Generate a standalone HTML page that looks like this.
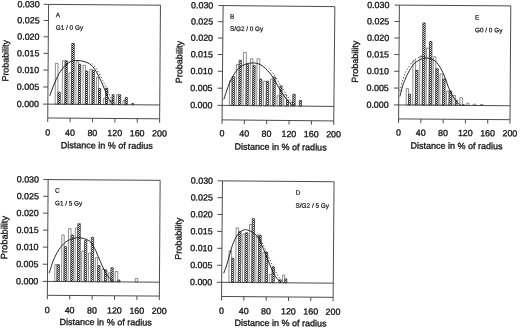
<!DOCTYPE html>
<html><head><meta charset="utf-8"><title>Figure</title><style>html,body{margin:0;padding:0;background:#fff}svg{display:block}text{stroke:#111;stroke-width:.3px}text.s{stroke-width:.2px}</style></head><body>
<svg width="520" height="329" viewBox="0 0 520 329" font-family="'Liberation Sans', Arial, sans-serif" stroke-linejoin="round">
<defs><pattern id="hatchA" width="2" height="2" patternUnits="userSpaceOnUse" patternTransform="rotate(-0.42 104.1 61.6)"><rect width="2" height="2" fill="#fff"/><path d="M0 1h1v1h-1zM1 0h1v1h-1z" fill="#111" shape-rendering="crispEdges"/></pattern><pattern id="hatchB" width="2" height="2" patternUnits="userSpaceOnUse" patternTransform="rotate(-0.55 278.4 63.2)"><rect width="2" height="2" fill="#fff"/><path d="M0 1h1v1h-1zM1 0h1v1h-1z" fill="#333" shape-rendering="crispEdges"/></pattern><pattern id="hatchE" width="2" height="2" patternUnits="userSpaceOnUse" patternTransform="rotate(-0.40 454.7 62.4)"><rect width="2" height="2" fill="#fff"/><path d="M0 1h1v1h-1zM1 0h1v1h-1z" fill="#333" shape-rendering="crispEdges"/></pattern><pattern id="hatchC" width="2" height="2" patternUnits="userSpaceOnUse" patternTransform="rotate(-0.40 103.8 237.8)"><rect width="2" height="2" fill="#fff"/><path d="M0 1h1v1h-1zM1 0h1v1h-1z" fill="#333" shape-rendering="crispEdges"/></pattern><pattern id="hatchD" width="2" height="2" patternUnits="userSpaceOnUse" patternTransform="rotate(-0.45 277.8 239.1)"><rect width="2" height="2" fill="#fff"/><path d="M0 1h1v1h-1zM1 0h1v1h-1z" fill="#333" shape-rendering="crispEdges"/></pattern></defs>
<rect width="520" height="329" fill="#fff"/>
<g transform="rotate(0.42 104.1 61.6)"><rect x="55.45" y="63.69" width="2.61" height="40.86" fill="#fff" stroke="#444" stroke-width="0.6"/>
<rect x="58.21" y="92.61" width="2.31" height="11.94" fill="url(#hatchA)" stroke="#222" stroke-width="0.7"/>
<rect x="62.47" y="61.08" width="2.61" height="43.47" fill="#fff" stroke="#444" stroke-width="0.6"/>
<rect x="65.23" y="61.08" width="2.11" height="43.47" fill="url(#hatchA)" stroke="#222" stroke-width="0.7"/>
<rect x="69.10" y="73.13" width="2.41" height="31.42" fill="#fff" stroke="#444" stroke-width="0.6"/>
<rect x="71.66" y="43.61" width="2.51" height="60.94" fill="url(#hatchA)" stroke="#222" stroke-width="0.7"/>
<rect x="76.13" y="62.09" width="2.41" height="42.46" fill="#fff" stroke="#444" stroke-width="0.6"/>
<rect x="78.69" y="64.50" width="2.11" height="40.05" fill="url(#hatchA)" stroke="#222" stroke-width="0.7"/>
<rect x="83.16" y="65.50" width="2.41" height="39.05" fill="#fff" stroke="#444" stroke-width="0.6"/>
<rect x="85.72" y="71.12" width="2.11" height="33.43" fill="url(#hatchA)" stroke="#222" stroke-width="0.7"/>
<rect x="89.78" y="69.52" width="2.41" height="35.03" fill="#fff" stroke="#444" stroke-width="0.6"/>
<rect x="92.34" y="70.52" width="2.11" height="34.03" fill="url(#hatchA)" stroke="#222" stroke-width="0.7"/>
<rect x="96.61" y="77.15" width="2.01" height="27.40" fill="#fff" stroke="#444" stroke-width="0.6"/>
<rect x="98.77" y="88.59" width="2.11" height="15.96" fill="url(#hatchA)" stroke="#222" stroke-width="0.7"/>
<rect x="103.64" y="98.23" width="2.01" height="6.32" fill="#fff" stroke="#444" stroke-width="0.6"/>
<rect x="105.80" y="88.19" width="2.11" height="16.36" fill="url(#hatchA)" stroke="#222" stroke-width="0.7"/>
<rect x="110.27" y="100.24" width="2.01" height="4.31" fill="#fff" stroke="#444" stroke-width="0.6"/>
<rect x="112.42" y="94.62" width="1.91" height="9.93" fill="url(#hatchA)" stroke="#222" stroke-width="0.7"/>
<rect x="116.69" y="94.62" width="2.01" height="9.93" fill="#fff" stroke="#444" stroke-width="0.6"/>
<rect x="118.85" y="94.62" width="2.11" height="9.93" fill="url(#hatchA)" stroke="#222" stroke-width="0.7"/>
<rect x="123.32" y="100.24" width="2.01" height="4.31" fill="#fff" stroke="#444" stroke-width="0.6"/>
<rect x="125.48" y="97.23" width="2.11" height="7.32" fill="url(#hatchA)" stroke="#222" stroke-width="0.7"/>
<rect x="132.10" y="103.25" width="1.91" height="1.30" fill="url(#hatchA)" stroke="#222" stroke-width="0.7"/>
<path d="M48.15 4.80H160.05V118.40H48.15Z" fill="none" stroke="#3a3a3a" stroke-width="0.9"/>
<path d="M48.15 104.55H160.05" stroke="#3a3a3a" stroke-width="0.9"/>
<path d="M43.35 104.55H48.15" stroke="#3a3a3a" stroke-width="0.9"/>
<text x="39.30" y="107.55" font-size="8.90" text-anchor="end" fill="#111">0.000</text>
<path d="M43.35 87.42H48.15" stroke="#3a3a3a" stroke-width="0.9"/>
<text x="39.30" y="90.42" font-size="8.90" text-anchor="end" fill="#111">0.005</text>
<path d="M43.35 70.50H48.15" stroke="#3a3a3a" stroke-width="0.9"/>
<text x="39.30" y="73.50" font-size="8.90" text-anchor="end" fill="#111">0.010</text>
<path d="M43.35 53.77H48.15" stroke="#3a3a3a" stroke-width="0.9"/>
<text x="39.30" y="56.77" font-size="8.90" text-anchor="end" fill="#111">0.015</text>
<path d="M43.35 37.25H48.15" stroke="#3a3a3a" stroke-width="0.9"/>
<text x="39.30" y="40.25" font-size="8.90" text-anchor="end" fill="#111">0.020</text>
<path d="M43.35 20.92H48.15" stroke="#3a3a3a" stroke-width="0.9"/>
<text x="39.30" y="23.92" font-size="8.90" text-anchor="end" fill="#111">0.025</text>
<path d="M43.35 4.80H48.15" stroke="#3a3a3a" stroke-width="0.9"/>
<text x="39.30" y="7.80" font-size="8.90" text-anchor="end" fill="#111">0.030</text>
<path d="M48.15 118.40V122.40" stroke="#3a3a3a" stroke-width="0.9"/>
<text x="48.15" y="136.00" font-size="8.90" text-anchor="middle" fill="#111">0</text>
<path d="M70.53 118.40V122.40" stroke="#3a3a3a" stroke-width="0.9"/>
<text x="70.53" y="136.00" font-size="8.90" text-anchor="middle" fill="#111">40</text>
<path d="M92.91 118.40V122.40" stroke="#3a3a3a" stroke-width="0.9"/>
<text x="92.91" y="136.00" font-size="8.90" text-anchor="middle" fill="#111">80</text>
<path d="M115.29 118.40V122.40" stroke="#3a3a3a" stroke-width="0.9"/>
<text x="115.29" y="136.00" font-size="8.90" text-anchor="middle" fill="#111">120</text>
<path d="M137.67 118.40V122.40" stroke="#3a3a3a" stroke-width="0.9"/>
<text x="137.67" y="136.00" font-size="8.90" text-anchor="middle" fill="#111">160</text>
<path d="M160.05 118.40V122.40" stroke="#3a3a3a" stroke-width="0.9"/>
<text x="160.05" y="136.00" font-size="8.90" text-anchor="middle" fill="#111">200</text>
<text x="107.30" y="148.50" font-size="9.00" text-anchor="middle" fill="#111">Distance in % of radius</text>
<text transform="translate(8.50 61.50) rotate(-90)" font-size="8.90" text-anchor="middle" fill="#111">Probability</text>
<path d="M50.02 96.22 C50.69 94.38 52.53 88.86 54.04 85.18 C55.55 81.50 57.39 77.15 59.06 74.14 C60.73 71.12 62.24 69.12 64.08 67.11 C65.92 65.10 67.93 63.16 70.10 62.09 C72.28 61.02 74.79 60.75 77.13 60.68 C79.48 60.62 81.82 60.95 84.16 61.69 C86.50 62.42 89.11 63.36 91.19 65.10 C93.26 66.84 94.94 69.45 96.61 72.13 C98.28 74.81 99.79 78.15 101.23 81.16 C102.67 84.18 103.91 87.19 105.24 90.20 C106.58 93.21 107.92 96.86 109.26 99.24 C110.60 101.61 112.61 103.59 113.28 104.46" fill="none" stroke="#111" stroke-width="0.9"/>
<path d="M92.19 63.69 C92.93 64.60 95.10 66.87 96.61 69.12 C98.12 71.36 99.79 74.47 101.23 77.15 C102.67 79.83 103.91 82.40 105.24 85.18 C106.58 87.96 107.92 91.14 109.26 93.82 C110.60 96.49 112.17 99.47 113.28 101.24 C114.38 103.02 115.45 103.92 115.89 104.46" fill="none" stroke="#222" stroke-width="0.95" stroke-dasharray="1.1 2.1"/>
<text class="s" x="55.50" y="17.60" font-size="6.40" fill="#111">A</text>
<text class="s" x="55.50" y="30.00" font-size="6.40" fill="#111">G1 / 0 Gy</text></g>
<g transform="rotate(0.55 278.4 63.2)"><rect x="229.74" y="81.32" width="2.48" height="24.58" fill="#fff" stroke="#444" stroke-width="0.6"/>
<rect x="232.37" y="77.19" width="2.39" height="28.71" fill="url(#hatchB)" stroke="#222" stroke-width="0.7"/>
<rect x="236.56" y="64.79" width="2.48" height="41.11" fill="#fff" stroke="#444" stroke-width="0.6"/>
<rect x="239.19" y="60.66" width="2.19" height="45.24" fill="url(#hatchB)" stroke="#222" stroke-width="0.7"/>
<rect x="243.38" y="52.81" width="2.89" height="53.09" fill="#fff" stroke="#444" stroke-width="0.6"/>
<rect x="246.42" y="64.79" width="2.19" height="41.11" fill="url(#hatchB)" stroke="#222" stroke-width="0.7"/>
<rect x="250.40" y="59.01" width="2.48" height="46.89" fill="#fff" stroke="#444" stroke-width="0.6"/>
<rect x="253.03" y="65.83" width="2.19" height="40.07" fill="url(#hatchB)" stroke="#222" stroke-width="0.7"/>
<rect x="257.02" y="59.01" width="2.69" height="46.89" fill="#fff" stroke="#444" stroke-width="0.6"/>
<rect x="259.85" y="79.26" width="2.19" height="26.64" fill="url(#hatchB)" stroke="#222" stroke-width="0.7"/>
<rect x="263.83" y="81.32" width="2.69" height="24.58" fill="#fff" stroke="#444" stroke-width="0.6"/>
<rect x="266.67" y="81.32" width="2.19" height="24.58" fill="url(#hatchB)" stroke="#222" stroke-width="0.7"/>
<rect x="270.65" y="79.26" width="2.48" height="26.64" fill="#fff" stroke="#444" stroke-width="0.6"/>
<rect x="273.28" y="77.19" width="2.19" height="28.71" fill="url(#hatchB)" stroke="#222" stroke-width="0.7"/>
<rect x="277.47" y="95.79" width="2.48" height="10.11" fill="#fff" stroke="#444" stroke-width="0.6"/>
<rect x="280.10" y="85.87" width="2.19" height="20.03" fill="url(#hatchB)" stroke="#222" stroke-width="0.7"/>
<rect x="284.08" y="94.75" width="2.69" height="11.15" fill="#fff" stroke="#444" stroke-width="0.6"/>
<rect x="286.92" y="99.92" width="1.98" height="5.98" fill="url(#hatchB)" stroke="#222" stroke-width="0.7"/>
<rect x="290.90" y="101.98" width="2.07" height="3.92" fill="#fff" stroke="#444" stroke-width="0.6"/>
<rect x="293.12" y="94.13" width="2.39" height="11.77" fill="url(#hatchB)" stroke="#222" stroke-width="0.7"/>
<rect x="299.73" y="100.33" width="2.19" height="5.57" fill="url(#hatchB)" stroke="#222" stroke-width="0.7"/>
<path d="M222.60 6.10H334.30V120.40H222.60Z" fill="none" stroke="#3a3a3a" stroke-width="0.9"/>
<path d="M222.60 105.90H334.30" stroke="#3a3a3a" stroke-width="0.9"/>
<path d="M217.80 105.90H222.60" stroke="#3a3a3a" stroke-width="0.9"/>
<text x="212.80" y="108.90" font-size="8.90" text-anchor="end" fill="#111">0.000</text>
<path d="M217.80 88.77H222.60" stroke="#3a3a3a" stroke-width="0.9"/>
<text x="212.80" y="91.77" font-size="8.90" text-anchor="end" fill="#111">0.005</text>
<path d="M217.80 71.83H222.60" stroke="#3a3a3a" stroke-width="0.9"/>
<text x="212.80" y="74.83" font-size="8.90" text-anchor="end" fill="#111">0.010</text>
<path d="M217.80 55.10H222.60" stroke="#3a3a3a" stroke-width="0.9"/>
<text x="212.80" y="58.10" font-size="8.90" text-anchor="end" fill="#111">0.015</text>
<path d="M217.80 38.57H222.60" stroke="#3a3a3a" stroke-width="0.9"/>
<text x="212.80" y="41.57" font-size="8.90" text-anchor="end" fill="#111">0.020</text>
<path d="M217.80 22.23H222.60" stroke="#3a3a3a" stroke-width="0.9"/>
<text x="212.80" y="25.23" font-size="8.90" text-anchor="end" fill="#111">0.025</text>
<path d="M217.80 6.10H222.60" stroke="#3a3a3a" stroke-width="0.9"/>
<text x="212.80" y="9.10" font-size="8.90" text-anchor="end" fill="#111">0.030</text>
<path d="M222.60 120.40V124.40" stroke="#3a3a3a" stroke-width="0.9"/>
<text x="222.60" y="136.80" font-size="8.90" text-anchor="middle" fill="#111">0</text>
<path d="M244.94 120.40V124.40" stroke="#3a3a3a" stroke-width="0.9"/>
<text x="244.94" y="136.80" font-size="8.90" text-anchor="middle" fill="#111">40</text>
<path d="M267.28 120.40V124.40" stroke="#3a3a3a" stroke-width="0.9"/>
<text x="267.28" y="136.80" font-size="8.90" text-anchor="middle" fill="#111">80</text>
<path d="M289.62 120.40V124.40" stroke="#3a3a3a" stroke-width="0.9"/>
<text x="289.62" y="136.80" font-size="8.90" text-anchor="middle" fill="#111">120</text>
<path d="M311.96 120.40V124.40" stroke="#3a3a3a" stroke-width="0.9"/>
<text x="311.96" y="136.80" font-size="8.90" text-anchor="middle" fill="#111">160</text>
<path d="M334.30 120.40V124.40" stroke="#3a3a3a" stroke-width="0.9"/>
<text x="334.30" y="136.80" font-size="8.90" text-anchor="middle" fill="#111">200</text>
<text x="281.45" y="150.00" font-size="9.00" text-anchor="middle" fill="#111">Distance in % of radius</text>
<text transform="translate(182.30 63.05) rotate(-90)" font-size="9.00" text-anchor="middle" fill="#111">Probability</text>
<path d="M224.17 99.92 C225.03 97.33 227.61 88.73 229.33 84.42 C231.05 80.12 232.77 76.85 234.50 74.09 C236.22 71.34 237.77 69.51 239.66 67.89 C241.56 66.27 243.62 65.17 245.86 64.38 C248.10 63.59 250.68 63.07 253.09 63.14 C255.50 63.21 257.91 63.55 260.32 64.79 C262.73 66.03 265.32 68.34 267.55 70.58 C269.79 72.82 271.86 75.40 273.75 78.22 C275.65 81.05 277.20 84.66 278.92 87.52 C280.64 90.38 282.36 92.96 284.08 95.37 C285.80 97.78 287.70 100.26 289.25 101.98 C290.80 103.71 292.69 105.08 293.38 105.70" fill="none" stroke="#111" stroke-width="0.9"/>
<path d="M268.59 67.89 C269.45 68.93 272.03 71.68 273.75 74.09 C275.47 76.50 277.20 79.60 278.92 82.36 C280.64 85.11 282.36 87.97 284.08 90.62 C285.80 93.27 287.53 96.03 289.25 98.26 C290.97 100.50 293.21 102.81 294.41 104.05 C295.62 105.29 296.13 105.43 296.48 105.70" fill="none" stroke="#222" stroke-width="0.95" stroke-dasharray="1.1 2.1"/>
<text class="s" x="229.60" y="19.10" font-size="6.40" fill="#111">B</text>
<text class="s" x="229.60" y="31.30" font-size="6.40" fill="#111">S/G2 / 0 Gy</text></g>
<g transform="rotate(0.40 454.7 62.4)"><rect x="406.43" y="88.86" width="2.29" height="16.49" fill="#fff" stroke="#444" stroke-width="0.6"/>
<rect x="408.86" y="94.57" width="2.07" height="10.78" fill="url(#hatchE)" stroke="#222" stroke-width="0.7"/>
<rect x="413.00" y="61.14" width="2.57" height="44.21" fill="#fff" stroke="#444" stroke-width="0.6"/>
<rect x="415.72" y="70.57" width="2.36" height="34.78" fill="url(#hatchE)" stroke="#222" stroke-width="0.7"/>
<rect x="419.86" y="56.29" width="2.57" height="49.06" fill="#fff" stroke="#444" stroke-width="0.6"/>
<rect x="422.58" y="23.14" width="2.36" height="82.21" fill="url(#hatchE)" stroke="#222" stroke-width="0.7"/>
<rect x="426.43" y="48.29" width="2.86" height="57.06" fill="#fff" stroke="#444" stroke-width="0.6"/>
<rect x="429.44" y="41.71" width="2.36" height="63.64" fill="url(#hatchE)" stroke="#222" stroke-width="0.7"/>
<rect x="433.29" y="56.86" width="2.57" height="48.49" fill="#fff" stroke="#444" stroke-width="0.6"/>
<rect x="436.01" y="68.86" width="2.36" height="36.49" fill="url(#hatchE)" stroke="#222" stroke-width="0.7"/>
<rect x="440.14" y="74.00" width="2.57" height="31.35" fill="#fff" stroke="#444" stroke-width="0.6"/>
<rect x="442.86" y="79.14" width="2.36" height="26.21" fill="url(#hatchE)" stroke="#222" stroke-width="0.7"/>
<rect x="446.71" y="91.14" width="2.57" height="14.21" fill="#fff" stroke="#444" stroke-width="0.6"/>
<rect x="449.44" y="91.14" width="2.36" height="14.21" fill="url(#hatchE)" stroke="#222" stroke-width="0.7"/>
<rect x="453.29" y="95.43" width="2.29" height="9.92" fill="#fff" stroke="#444" stroke-width="0.6"/>
<rect x="455.72" y="100.29" width="1.79" height="5.06" fill="url(#hatchE)" stroke="#222" stroke-width="0.7"/>
<rect x="460.14" y="97.71" width="2.57" height="7.64" fill="#fff" stroke="#444" stroke-width="0.6"/>
<rect x="462.86" y="104.57" width="1.79" height="0.78" fill="url(#hatchE)" stroke="#222" stroke-width="0.7"/>
<rect x="467.00" y="103.14" width="2.29" height="2.21" fill="#fff" stroke="#444" stroke-width="0.6"/>
<rect x="473.57" y="104.00" width="2.57" height="1.35" fill="#fff" stroke="#444" stroke-width="0.6"/>
<rect x="480.71" y="104.29" width="2.57" height="1.06" fill="#fff" stroke="#444" stroke-width="0.6"/>
<path d="M399.00 5.50H510.40V119.30H399.00Z" fill="none" stroke="#3a3a3a" stroke-width="0.9"/>
<path d="M399.00 105.35H510.40" stroke="#3a3a3a" stroke-width="0.9"/>
<path d="M394.20 105.35H399.00" stroke="#3a3a3a" stroke-width="0.9"/>
<text x="389.00" y="108.35" font-size="8.90" text-anchor="end" fill="#111">0.000</text>
<path d="M394.20 88.46H399.00" stroke="#3a3a3a" stroke-width="0.9"/>
<text x="389.00" y="91.46" font-size="8.90" text-anchor="end" fill="#111">0.005</text>
<path d="M394.20 71.67H399.00" stroke="#3a3a3a" stroke-width="0.9"/>
<text x="389.00" y="74.67" font-size="8.90" text-anchor="end" fill="#111">0.010</text>
<path d="M394.20 54.97H399.00" stroke="#3a3a3a" stroke-width="0.9"/>
<text x="389.00" y="57.97" font-size="8.90" text-anchor="end" fill="#111">0.015</text>
<path d="M394.20 38.38H399.00" stroke="#3a3a3a" stroke-width="0.9"/>
<text x="389.00" y="41.38" font-size="8.90" text-anchor="end" fill="#111">0.020</text>
<path d="M394.20 21.89H399.00" stroke="#3a3a3a" stroke-width="0.9"/>
<text x="389.00" y="24.89" font-size="8.90" text-anchor="end" fill="#111">0.025</text>
<path d="M394.20 5.50H399.00" stroke="#3a3a3a" stroke-width="0.9"/>
<text x="389.00" y="8.50" font-size="8.90" text-anchor="end" fill="#111">0.030</text>
<path d="M399.00 119.30V123.30" stroke="#3a3a3a" stroke-width="0.9"/>
<text x="399.00" y="136.00" font-size="8.90" text-anchor="middle" fill="#111">0</text>
<path d="M421.28 119.30V123.30" stroke="#3a3a3a" stroke-width="0.9"/>
<text x="421.28" y="136.00" font-size="8.90" text-anchor="middle" fill="#111">40</text>
<path d="M443.56 119.30V123.30" stroke="#3a3a3a" stroke-width="0.9"/>
<text x="443.56" y="136.00" font-size="8.90" text-anchor="middle" fill="#111">80</text>
<path d="M465.84 119.30V123.30" stroke="#3a3a3a" stroke-width="0.9"/>
<text x="465.84" y="136.00" font-size="8.90" text-anchor="middle" fill="#111">120</text>
<path d="M488.12 119.30V123.30" stroke="#3a3a3a" stroke-width="0.9"/>
<text x="488.12" y="136.00" font-size="8.90" text-anchor="middle" fill="#111">160</text>
<path d="M510.40 119.30V123.30" stroke="#3a3a3a" stroke-width="0.9"/>
<text x="510.40" y="136.00" font-size="8.90" text-anchor="middle" fill="#111">200</text>
<text x="457.20" y="148.90" font-size="9.00" text-anchor="middle" fill="#111">Distance in % of radius</text>
<text transform="translate(358.10 62.50) rotate(-90)" font-size="9.00" text-anchor="middle" fill="#111">Probability</text>
<path d="M400.14 96.86 C400.71 94.71 402.05 88.29 403.57 84.00 C405.10 79.71 407.38 74.62 409.29 71.14 C411.19 67.67 412.86 65.14 415.00 63.14 C417.14 61.14 420.00 59.95 422.14 59.14 C424.29 58.33 425.71 57.95 427.86 58.29 C430.00 58.62 432.86 59.48 435.00 61.14 C437.14 62.81 439.05 65.57 440.71 68.29 C442.38 71.00 443.57 74.00 445.00 77.43 C446.43 80.86 447.86 85.62 449.29 88.86 C450.71 92.10 452.14 94.57 453.57 96.86 C455.00 99.14 456.57 101.14 457.86 102.57 C459.14 104.00 460.71 104.95 461.29 105.43" fill="none" stroke="#111" stroke-width="0.9"/>
<path d="M400.14 91.14 C400.62 89.24 401.95 83.05 403.00 79.71 C404.05 76.38 404.90 74.00 406.43 71.14 C407.95 68.29 410.00 64.86 412.14 62.57 C414.29 60.29 417.14 58.38 419.29 57.43 C421.43 56.48 424.05 56.95 425.00 56.86" fill="none" stroke="#222" stroke-width="0.95" stroke-dasharray="1.1 2.1"/>
<text class="s" x="474.80" y="19.50" font-size="6.40" fill="#111">E</text>
<text class="s" x="474.80" y="32.10" font-size="6.40" fill="#111">G0 / 0 Gy</text></g>
<g transform="rotate(0.40 103.8 237.8)"><rect x="55.06" y="265.00" width="2.13" height="16.80" fill="#fff" stroke="#444" stroke-width="0.6"/>
<rect x="57.34" y="265.00" width="2.27" height="16.80" fill="url(#hatchC)" stroke="#222" stroke-width="0.7"/>
<rect x="61.87" y="235.21" width="2.34" height="46.59" fill="#fff" stroke="#444" stroke-width="0.6"/>
<rect x="64.36" y="246.91" width="2.27" height="34.89" fill="url(#hatchC)" stroke="#222" stroke-width="0.7"/>
<rect x="68.47" y="228.83" width="2.55" height="52.97" fill="#fff" stroke="#444" stroke-width="0.6"/>
<rect x="71.17" y="235.21" width="2.27" height="46.59" fill="url(#hatchC)" stroke="#222" stroke-width="0.7"/>
<rect x="75.28" y="228.19" width="2.34" height="53.61" fill="#fff" stroke="#444" stroke-width="0.6"/>
<rect x="77.77" y="223.94" width="2.48" height="57.86" fill="url(#hatchC)" stroke="#222" stroke-width="0.7"/>
<rect x="81.87" y="251.17" width="2.55" height="30.63" fill="#fff" stroke="#444" stroke-width="0.6"/>
<rect x="84.58" y="240.53" width="2.27" height="41.27" fill="url(#hatchC)" stroke="#222" stroke-width="0.7"/>
<rect x="88.68" y="253.30" width="2.55" height="28.50" fill="#fff" stroke="#444" stroke-width="0.6"/>
<rect x="91.38" y="237.34" width="2.27" height="44.46" fill="url(#hatchC)" stroke="#222" stroke-width="0.7"/>
<rect x="95.49" y="257.55" width="2.34" height="24.25" fill="#fff" stroke="#444" stroke-width="0.6"/>
<rect x="97.98" y="265.64" width="2.27" height="16.16" fill="url(#hatchC)" stroke="#222" stroke-width="0.7"/>
<rect x="102.09" y="269.26" width="2.55" height="12.54" fill="#fff" stroke="#444" stroke-width="0.6"/>
<rect x="104.79" y="269.89" width="2.27" height="11.91" fill="url(#hatchC)" stroke="#222" stroke-width="0.7"/>
<rect x="108.89" y="272.87" width="2.13" height="8.93" fill="#fff" stroke="#444" stroke-width="0.6"/>
<rect x="111.17" y="267.77" width="2.27" height="14.03" fill="url(#hatchC)" stroke="#222" stroke-width="0.7"/>
<rect x="115.49" y="271.38" width="2.55" height="10.42" fill="#fff" stroke="#444" stroke-width="0.6"/>
<rect x="118.19" y="279.89" width="2.05" height="1.91" fill="url(#hatchC)" stroke="#222" stroke-width="0.7"/>
<rect x="135.49" y="278.19" width="2.55" height="3.61" fill="#fff" stroke="#444" stroke-width="0.6"/>
<path d="M47.75 179.95H159.75V295.70H47.75Z" fill="none" stroke="#3a3a3a" stroke-width="0.9"/>
<path d="M47.75 281.80H159.75" stroke="#3a3a3a" stroke-width="0.9"/>
<path d="M42.95 281.80H47.75" stroke="#3a3a3a" stroke-width="0.9"/>
<text x="38.60" y="284.80" font-size="8.90" text-anchor="end" fill="#111">0.000</text>
<path d="M42.95 264.63H47.75" stroke="#3a3a3a" stroke-width="0.9"/>
<text x="38.60" y="267.63" font-size="8.90" text-anchor="end" fill="#111">0.005</text>
<path d="M42.95 247.54H47.75" stroke="#3a3a3a" stroke-width="0.9"/>
<text x="38.60" y="250.54" font-size="8.90" text-anchor="end" fill="#111">0.010</text>
<path d="M42.95 230.53H47.75" stroke="#3a3a3a" stroke-width="0.9"/>
<text x="38.60" y="233.53" font-size="8.90" text-anchor="end" fill="#111">0.015</text>
<path d="M42.95 213.59H47.75" stroke="#3a3a3a" stroke-width="0.9"/>
<text x="38.60" y="216.59" font-size="8.90" text-anchor="end" fill="#111">0.020</text>
<path d="M42.95 196.73H47.75" stroke="#3a3a3a" stroke-width="0.9"/>
<text x="38.60" y="199.73" font-size="8.90" text-anchor="end" fill="#111">0.025</text>
<path d="M42.95 179.95H47.75" stroke="#3a3a3a" stroke-width="0.9"/>
<text x="38.60" y="182.95" font-size="8.90" text-anchor="end" fill="#111">0.030</text>
<path d="M47.75 295.70V299.70" stroke="#3a3a3a" stroke-width="0.9"/>
<text x="47.75" y="313.50" font-size="8.90" text-anchor="middle" fill="#111">0</text>
<path d="M70.15 295.70V299.70" stroke="#3a3a3a" stroke-width="0.9"/>
<text x="70.15" y="313.50" font-size="8.90" text-anchor="middle" fill="#111">40</text>
<path d="M92.55 295.70V299.70" stroke="#3a3a3a" stroke-width="0.9"/>
<text x="92.55" y="313.50" font-size="8.90" text-anchor="middle" fill="#111">80</text>
<path d="M114.95 295.70V299.70" stroke="#3a3a3a" stroke-width="0.9"/>
<text x="114.95" y="313.50" font-size="8.90" text-anchor="middle" fill="#111">120</text>
<path d="M137.35 295.70V299.70" stroke="#3a3a3a" stroke-width="0.9"/>
<text x="137.35" y="313.50" font-size="8.90" text-anchor="middle" fill="#111">160</text>
<path d="M159.75 295.70V299.70" stroke="#3a3a3a" stroke-width="0.9"/>
<text x="159.75" y="313.50" font-size="8.90" text-anchor="middle" fill="#111">200</text>
<text x="106.25" y="325.20" font-size="9.00" text-anchor="middle" fill="#111">Distance in % of radius</text>
<text transform="translate(7.40 238.22) rotate(-90)" font-size="9.25" text-anchor="middle" fill="#111">Probability</text>
<path d="M49.32 273.51 C50.03 271.38 51.98 264.65 53.57 260.74 C55.17 256.84 56.94 253.12 58.89 250.11 C60.84 247.09 62.97 244.54 65.28 242.66 C67.58 240.78 70.24 239.61 72.72 238.83 C75.21 238.05 77.69 237.77 80.17 237.98 C82.65 238.19 85.74 239.26 87.62 240.11 C89.50 240.96 90.10 241.35 91.45 243.09 C92.79 244.82 94.25 247.59 95.70 250.53 C97.16 253.48 98.68 257.45 100.17 260.74 C101.66 264.04 103.18 267.59 104.64 270.32 C106.09 273.05 107.58 275.43 108.89 277.13 C110.21 278.83 111.62 279.82 112.51 280.53 C113.40 281.24 113.93 281.24 114.21 281.38" fill="none" stroke="#111" stroke-width="0.9"/>
<text class="s" x="54.70" y="193.00" font-size="6.40" fill="#111">C</text>
<text class="s" x="54.70" y="205.70" font-size="6.40" fill="#111">G1 / 5 Gy</text></g>
<g transform="rotate(0.45 277.8 239.1)"><rect x="229.21" y="251.17" width="2.55" height="31.58" fill="#fff" stroke="#444" stroke-width="0.6"/>
<rect x="231.92" y="258.62" width="2.05" height="24.13" fill="url(#hatchD)" stroke="#222" stroke-width="0.7"/>
<rect x="236.02" y="228.19" width="2.55" height="54.56" fill="#fff" stroke="#444" stroke-width="0.6"/>
<rect x="238.72" y="232.02" width="2.27" height="50.73" fill="url(#hatchD)" stroke="#222" stroke-width="0.7"/>
<rect x="242.83" y="234.15" width="2.34" height="48.60" fill="#fff" stroke="#444" stroke-width="0.6"/>
<rect x="245.32" y="233.09" width="2.48" height="49.66" fill="url(#hatchD)" stroke="#222" stroke-width="0.7"/>
<rect x="249.43" y="224.57" width="2.55" height="58.18" fill="#fff" stroke="#444" stroke-width="0.6"/>
<rect x="252.13" y="218.83" width="2.27" height="63.92" fill="url(#hatchD)" stroke="#222" stroke-width="0.7"/>
<rect x="256.23" y="236.28" width="2.34" height="46.47" fill="#fff" stroke="#444" stroke-width="0.6"/>
<rect x="258.72" y="235.21" width="2.48" height="47.54" fill="url(#hatchD)" stroke="#222" stroke-width="0.7"/>
<rect x="263.04" y="252.23" width="2.34" height="30.52" fill="#fff" stroke="#444" stroke-width="0.6"/>
<rect x="265.53" y="252.23" width="2.27" height="30.52" fill="url(#hatchD)" stroke="#222" stroke-width="0.7"/>
<rect x="269.64" y="274.57" width="2.55" height="8.18" fill="#fff" stroke="#444" stroke-width="0.6"/>
<rect x="272.34" y="267.13" width="2.27" height="15.62" fill="url(#hatchD)" stroke="#222" stroke-width="0.7"/>
<rect x="279.15" y="279.89" width="2.27" height="2.86" fill="url(#hatchD)" stroke="#222" stroke-width="0.7"/>
<rect x="282.83" y="275.00" width="2.13" height="7.75" fill="#fff" stroke="#444" stroke-width="0.6"/>
<rect x="285.11" y="278.83" width="2.05" height="3.92" fill="url(#hatchD)" stroke="#222" stroke-width="0.7"/>
<path d="M222.00 181.30H333.60V296.90H222.00Z" fill="none" stroke="#3a3a3a" stroke-width="0.9"/>
<path d="M222.00 282.75H333.60" stroke="#3a3a3a" stroke-width="0.9"/>
<path d="M217.20 282.75H222.00" stroke="#3a3a3a" stroke-width="0.9"/>
<text x="212.60" y="285.75" font-size="8.90" text-anchor="end" fill="#111">0.000</text>
<path d="M217.20 265.73H222.00" stroke="#3a3a3a" stroke-width="0.9"/>
<text x="212.60" y="268.73" font-size="8.90" text-anchor="end" fill="#111">0.005</text>
<path d="M217.20 248.76H222.00" stroke="#3a3a3a" stroke-width="0.9"/>
<text x="212.60" y="251.76" font-size="8.90" text-anchor="end" fill="#111">0.010</text>
<path d="M217.20 231.83H222.00" stroke="#3a3a3a" stroke-width="0.9"/>
<text x="212.60" y="234.83" font-size="8.90" text-anchor="end" fill="#111">0.015</text>
<path d="M217.20 214.94H222.00" stroke="#3a3a3a" stroke-width="0.9"/>
<text x="212.60" y="217.94" font-size="8.90" text-anchor="end" fill="#111">0.020</text>
<path d="M217.20 198.10H222.00" stroke="#3a3a3a" stroke-width="0.9"/>
<text x="212.60" y="201.10" font-size="8.90" text-anchor="end" fill="#111">0.025</text>
<path d="M217.20 181.30H222.00" stroke="#3a3a3a" stroke-width="0.9"/>
<text x="212.60" y="184.30" font-size="8.90" text-anchor="end" fill="#111">0.030</text>
<path d="M222.00 296.90V300.90" stroke="#3a3a3a" stroke-width="0.9"/>
<text x="222.00" y="314.30" font-size="8.90" text-anchor="middle" fill="#111">0</text>
<path d="M244.32 296.90V300.90" stroke="#3a3a3a" stroke-width="0.9"/>
<text x="244.32" y="314.30" font-size="8.90" text-anchor="middle" fill="#111">40</text>
<path d="M266.64 296.90V300.90" stroke="#3a3a3a" stroke-width="0.9"/>
<text x="266.64" y="314.30" font-size="8.90" text-anchor="middle" fill="#111">80</text>
<path d="M288.96 296.90V300.90" stroke="#3a3a3a" stroke-width="0.9"/>
<text x="288.96" y="314.30" font-size="8.90" text-anchor="middle" fill="#111">120</text>
<path d="M311.28 296.90V300.90" stroke="#3a3a3a" stroke-width="0.9"/>
<text x="311.28" y="314.30" font-size="8.90" text-anchor="middle" fill="#111">160</text>
<path d="M333.60 296.90V300.90" stroke="#3a3a3a" stroke-width="0.9"/>
<text x="333.60" y="314.30" font-size="8.90" text-anchor="middle" fill="#111">200</text>
<text x="281.10" y="326.10" font-size="9.00" text-anchor="middle" fill="#111">Distance in % of radius</text>
<text transform="translate(181.50 239.50) rotate(-90)" font-size="9.00" text-anchor="middle" fill="#111">Probability</text>
<path d="M224.00 273.75 C224.50 272.29 226.04 268.12 227.00 265.00 C227.96 261.88 228.88 258.12 229.75 255.00 C230.62 251.88 231.42 248.75 232.25 246.25 C233.08 243.75 233.92 241.79 234.75 240.00 C235.58 238.21 236.42 236.75 237.25 235.50 C238.08 234.25 238.58 233.42 239.75 232.50 C240.92 231.58 242.75 230.29 244.25 230.00 C245.75 229.71 247.38 230.33 248.75 230.75 C250.12 231.17 251.25 231.71 252.50 232.50 C253.75 233.29 255.21 234.46 256.25 235.50 C257.29 236.54 257.83 237.17 258.75 238.75 C259.67 240.33 260.71 242.71 261.75 245.00 C262.79 247.29 263.96 250.00 265.00 252.50 C266.04 255.00 266.96 257.50 268.00 260.00 C269.04 262.50 270.17 265.08 271.25 267.50 C272.33 269.92 273.46 272.62 274.50 274.50 C275.54 276.38 276.38 277.50 277.50 278.75 C278.62 280.00 280.62 281.46 281.25 282.00" fill="none" stroke="#111" stroke-width="0.9"/>
<path d="M257.50 234.50 C258.12 235.62 260.08 239.08 261.25 241.25 C262.42 243.42 263.46 245.29 264.50 247.50 C265.54 249.71 266.46 252.21 267.50 254.50 C268.54 256.79 269.71 259.08 270.75 261.25 C271.79 263.42 272.71 265.42 273.75 267.50 C274.79 269.58 275.96 271.96 277.00 273.75 C278.04 275.54 278.88 276.88 280.00 278.25 C281.12 279.62 283.12 281.38 283.75 282.00" fill="none" stroke="#222" stroke-width="0.95" stroke-dasharray="1.1 2.1"/>
<text class="s" x="295.30" y="194.50" font-size="6.40" fill="#111">D</text>
<text class="s" x="295.30" y="207.50" font-size="6.40" fill="#111">S/G2 / 5 Gy</text></g>
</svg>
</body></html>
